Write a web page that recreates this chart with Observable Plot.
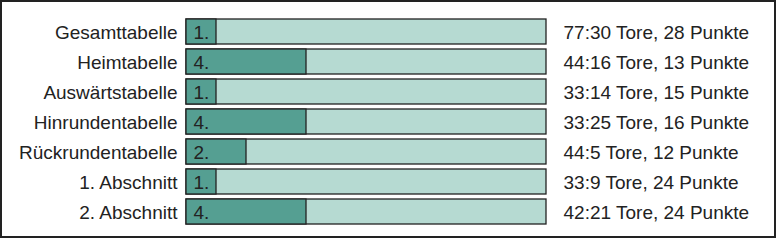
<!DOCTYPE html>
<html>
<head>
<meta charset="utf-8">
<script src="https://cdn.jsdelivr.net/npm/d3@7"></script>
<script src="https://cdn.jsdelivr.net/npm/@observablehq/plot@0.6"></script>
<style>
  html, body { margin: 0; padding: 0; background: #fff; }
  #chart svg { display: block; border: 2px solid #222; }
</style>
</head>
<body>
<div id="chart"></div>
<script>
const categories = ["Gesamttabelle", "Heimtabelle", "Auswärtstabelle", "Hinrundentabelle", "Rückrundentabelle", "1. Abschnitt", "2. Abschnitt"];
const ranks = [1, 4, 1, 4, 2, 1, 4];
const goalsFor = [77, 44, 33, 33, 44, 33, 42];
const goalsAgainst = [30, 16, 14, 25, 5, 9, 21];
const points = [28, 13, 15, 16, 12, 24, 24];
const teamCount = 12;

const rows = categories.map((c, i) => ({
  cat: c,
  rank: ranks[i],
  total: teamCount,
  info: `${goalsFor[i]}:${goalsAgainst[i]} Tore, ${points[i]} Punkte`
}));

const font = "'Liberation Sans', Arial, sans-serif";
const fs = 19;

const chart = Plot.plot({
  width: 772,
  height: 234,
  marginLeft: 184,
  marginRight: 228,
  marginTop: 11.5,
  marginBottom: 5.5,
  style: { fontFamily: font, fontSize: fs + "px", color: "#222", background: "#fff", overflow: "visible" },
  x: { domain: [0, teamCount], axis: null },
  y: { domain: categories, paddingInner: 0.161, paddingOuter: 0.0806, axis: null },
  marks: [
    Plot.barX(rows, { y: "cat", x1: 0, x2: "total", fill: "#b6dad2", stroke: "#222", strokeWidth: 1.3 }),
    Plot.barX(rows, { y: "cat", x1: 0, x2: "rank", fill: "#559f92", stroke: "#222", strokeWidth: 1.3 }),
    Plot.text(rows, { y: "cat", x: 0, text: d => d.rank + ".", dx: 7, dy: 1, textAnchor: "start", fill: "#222", fontSize: fs }),
    Plot.text(rows, { y: "cat", x: 0, text: "cat", dx: -9, dy: 1, textAnchor: "end", fill: "#222", fontSize: fs }),
    Plot.text(rows, { y: "cat", x: "total", text: "info", dx: 17, dy: 1, textAnchor: "start", fill: "#222", fontSize: fs })
  ]
});
document.getElementById("chart").appendChild(chart);
</script>
</body>
</html>
